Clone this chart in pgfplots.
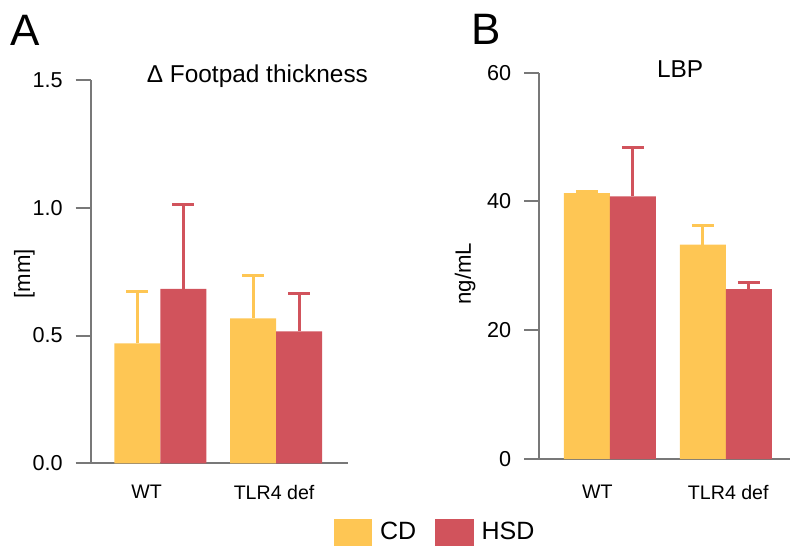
\documentclass[border=0pt]{standalone}
\usepackage{pgfplots}
\pgfplotsset{compat=1.18}
\usepackage{fontspec}
\setmainfont{Liberation Sans}

\definecolor{cdcol}{RGB}{254,198,84}
\definecolor{hsdcol}{RGB}{209,83,92}
\definecolor{axgray}{RGB}{120,120,120}

\pgfplotsset{
  panel/.style={
    scale only axis,
    anchor=south west,
    axis x line=bottom,
    axis y line=left,
    axis line style={-, axgray, line width=1pt},
    ytick style={axgray, line width=1pt},
    xtick style={draw=none},
    tick align=outside,
    major tick length=7.5pt,
    ymin=0,
    ybar,
    bar width=23pt,
    x tick label style={font=\fontsize{9.8}{11}\selectfont},
    y tick label style={font=\fontsize{10.8}{12}\selectfont, xshift=-3pt},
    /pgf/number format/assume math mode=true,
    ylabel style={font=\fontsize{11.1}{13}\selectfont},
    title style={font=\fontsize{12.2}{14}\selectfont, anchor=base},
    error bars/y dir=plus,
    error bars/y explicit,
  },
  cd/.style={fill=cdcol, draw=none, bar shift=-11.5pt,
    error bars/error bar style={line width=1.5pt, cdcol},
    error bars/error mark options={rotate=90, mark size=5.5pt, line width=1.5pt, cdcol}},
  hsd/.style={fill=hsdcol, draw=none, bar shift=11.5pt,
    error bars/error bar style={line width=1.5pt, hsdcol},
    error bars/error mark options={rotate=90, mark size=5.5pt, line width=1.5pt, hsdcol}},
}

\begin{document}
\begin{tikzpicture}
\useasboundingbox (0,0) rectangle (395pt,273.5pt);

% panel A
\begin{axis}[panel,
  at={(45.35pt,41.85pt)},
  width=128.65pt, height=191.65pt,
  xmin=-0.6016, xmax=1.622,
  ymax=1.5,
  ytick={0,0.5,1,1.5},
  yticklabel style={/pgf/number format/.cd, fixed, fixed zerofill, precision=1},
  xtick={-0.118,0.983},
  xticklabels={WT, TLR4 def},
  ylabel={[mm]},
  ylabel style={at={(axis description cs:-0.2575,0.494)}, anchor=center},
  title={Δ Footpad thickness},
  title style={at={(axis description cs:0.648,0.961)}},
  legend style={at={(axis description cs:1.342,-0.1805)}, anchor=center,
    draw=none, fill=none, font=\fontsize{12.5}{14}\selectfont,
    /tikz/every odd column/.append style={column sep=2pt},
    /tikz/every even column/.append style={column sep=7.5pt}},
  legend columns=2,
]
\addplot[cd, forget plot] coordinates {(0,0.469) +- (0,0.202) (1,0.567) +- (0,0.166)};
\addplot[hsd, forget plot] coordinates {(0,0.683) +- (0,0.331) (1,0.516) +- (0,0.150)};
\addlegendimage{legend image code/.code={\fill[cdcol] (0pt,-6.6pt) rectangle (18.85pt,6.6pt);}}
\addlegendentry{CD}
\addlegendimage{legend image code/.code={\fill[hsdcol] (0pt,-6.6pt) rectangle (18.85pt,6.6pt);}}
\addlegendentry{HSD}
\end{axis}

% panel B
\begin{axis}[panel,
  at={(269.65pt,44pt)},
  width=125.35pt, height=193.15pt,
  xmin=-0.609, xmax=1.552,
  ymax=60,
  ytick={0,20,40,60},
  xtick={-0.108,1.02},
  xticklabels={WT, TLR4 def},
  x tick label style={yshift=-2pt},
  ylabel={ng/mL},
  ylabel style={at={(axis description cs:-0.296,0.48)}, anchor=center},
  title={LBP},
  title style={at={(axis description cs:0.562,0.957)}},
]
\addplot[cd] coordinates {(0,41.3) +- (0,0.25) (1,33.3) +- (0,3.0)};
\addplot[hsd] coordinates {(0,40.8) +- (0,7.6) (1,26.4) +- (0,1.0)};
\end{axis}

\node[anchor=base, font=\fontsize{22}{26}\selectfont] at (12.5pt,250.65pt) {A};
\node[anchor=base, font=\fontsize{22}{26}\selectfont] at (242.9pt,251pt) {B};
\end{tikzpicture}
\end{document}
